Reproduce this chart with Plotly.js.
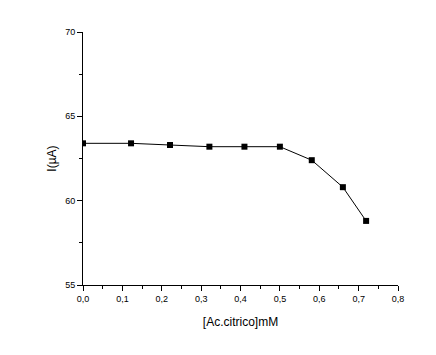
<!DOCTYPE html>
<html><head><meta charset="utf-8">
<script src="https://cdn.plot.ly/plotly-3.0.1.min.js"></script>
<style>html,body{margin:0;padding:0;background:#fff}#c{width:436px;height:355px}</style>
</head><body><div id="c"></div>
<script>
const concentration = [0.0, 0.122, 0.221, 0.321, 0.41, 0.50, 0.581, 0.66, 0.719];
const current = [63.4, 63.4, 63.3, 63.2, 63.2, 63.2, 62.4, 60.8, 58.8];
const xTitle = '[Ac.citrico]mM';
const yTitle = 'I(µA)';

Plotly.newPlot('c', [{
  x: concentration, y: current, type: 'scatter', mode: 'lines+markers',
  line: {color: '#000', width: 1},
  marker: {symbol: 'square', size: 6, color: '#000'},
  cliponaxis: true
}], {
  width: 436, height: 355,
  margin: {l: 83, r: 38, t: 32, b: 70},
  separators: ',.',
  showlegend: false,
  paper_bgcolor: '#fff', plot_bgcolor: '#fff',
  font: {family: 'Liberation Sans, Arial, sans-serif', color: '#000', size: 9},
  xaxis: {
    range: [0, 0.8], dtick: 0.1, tick0: 0, tickformat: '.1f',
    showgrid: false, zeroline: false, showline: true, linecolor: '#000', linewidth: 1,
    ticks: 'outside', ticklen: 5, tickcolor: '#000', tickfont: {size: 9},
    minor: {dtick: 0.05, ticks: 'outside', ticklen: 3, tickcolor: '#000', showgrid: false},
    title: {text: xTitle, font: {size: 12}, standoff: 14}
  },
  yaxis: {
    range: [55, 70], dtick: 5, tick0: 55,
    showgrid: false, zeroline: false, showline: true, linecolor: '#000', linewidth: 1,
    ticks: 'outside', ticklen: 5, tickcolor: '#000', tickfont: {size: 9},
    minor: {dtick: 2.5, ticks: 'outside', ticklen: 3, tickcolor: '#000', showgrid: false},
    title: {text: yTitle, font: {size: 12}, standoff: 5}
  }
}, {displayModeBar: false, staticPlot: true});
</script></body></html>
